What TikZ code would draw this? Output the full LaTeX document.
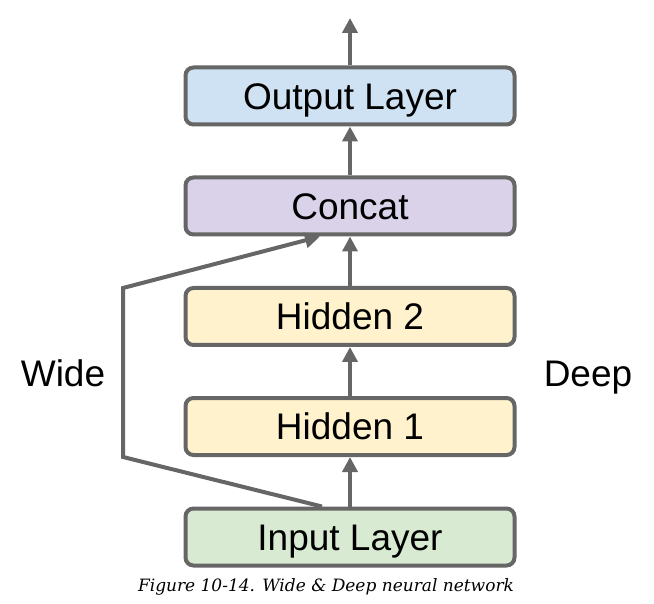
\documentclass[tikz,border=0pt]{standalone}
\usepackage{fontspec}
\setmainfont{Liberation Sans}
\newfontfamily\captionfont{DejaVu Serif}
\usetikzlibrary{arrows.meta}
\definecolor{edge}{HTML}{666666}
\definecolor{outfill}{HTML}{CFE2F3}
\definecolor{catfill}{HTML}{D9D2E9}
\definecolor{hidfill}{HTML}{FFF2CC}
\definecolor{infill}{HTML}{D9EAD3}
\begin{document}
\begin{tikzpicture}[x=1pt,y=-1pt,
  layer/.style={draw=edge, line width=4pt, rounded corners=8pt,
    minimum width=329pt, minimum height=57pt, inner sep=0pt,
    font=\fontsize{37}{42}\selectfont, text height=26.5pt, text depth=0pt},
  link/.style={draw=edge, line width=4pt,
    -{Triangle[width=15pt,length=15pt,fill=edge]}},
  side/.style={font=\fontsize{37}{42}\selectfont, text height=26.5pt, text depth=0pt, inner sep=0pt}]
\useasboundingbox (0,0) rectangle (654,604);
% the five stacked layers
\node[layer, fill=outfill] (out) at (350,96) {Output Layer};
\node[layer, fill=catfill] (cat) at (350,206) {Concat};
\node[layer, fill=hidfill] (h2) at (350,316.5) {Hidden 2};
\node[layer, fill=hidfill] (h1) at (350,426.5) {Hidden 1};
\node[layer, fill=infill] (in) at (350,537) {Input Layer};
\coordinate (top) at (350,18);
\coordinate (wa) at (123,457);
\coordinate (wb) at (123,288);
% deep path
\draw[link] (in.north) -- (h1.south);
\draw[link] (h1.north) -- (h2.south);
\draw[link] (h2.north) -- (cat.south);
\draw[link] (cat.north) -- (out.south);
\draw[link] (out.north) -- (top);
% wide shortcut
\draw[link, line join=miter] ([xshift=-28pt]in.north) -- (wa) -- (wb) -- ([xshift=-30pt]cat.south);
\node[side] (wide) at (63,373) {Wide};
\node[side] (deep) at (588,373) {Deep};
\node[font=\captionfont\itshape\fontsize{17}{20}\selectfont] (cap) at (326,587) {Figure 10-14. Wide \& Deep neural network};
\end{tikzpicture}
\end{document}
